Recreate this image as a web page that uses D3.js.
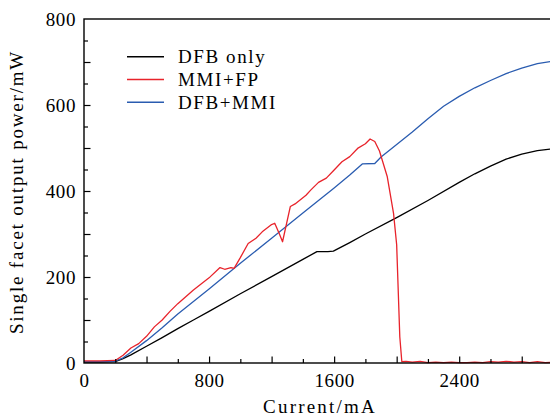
<!DOCTYPE html>
<html><head><meta charset="utf-8">
<script src="https://cdn.jsdelivr.net/npm/d3@7"></script>
<style>
html,body{margin:0;padding:0;background:#fff;}
svg text{font-family:"Liberation Serif","Times New Roman",serif;fill:#000;}
</style></head>
<body><svg id="c" width="550" height="417"></svg>
<script>
// ---- data ----
const seriesNames = ["DFB only", "MMI+FP", "DFB+MMI"];
const seriesColors = ["#000000", "#e8232b", "#2a5cb0"];

const dfbCurrent = [0,100,200,250,300,400,500,600,700,800,1000,1200,1400,1490,1520,1560,1595,1700,1800,2000,2200,2400,2500,2600,2700,2800,2900,3000];
const dfbPower   = [2,2,3,10,19,39,59,80,100,120,161,201,241,259,259,259,260,280,300,338,378,420,440,458,474,486,494,498];

const mmiCurrent = [0,100,200,250,300,350,400,450,500,550,600,700,800,870,900,940,960,1000,1050,1100,1140,1200,1220,1250,1270,1320,1350,1420,1450,1500,1550,1600,1650,1700,1750,1800,1830,1860,1890,1940,1980,2000,2020,2033,2060,2100,2150,2200,2250,2300,2350,2400,2450,2500,2550,2600,2650,2700,2750,2800,2850,2900,2950,3000];
const mmiPower   = [5,5,6,18,35,45,62,84,100,120,138,170,198,222,218,222,220,245,278,290,305,322,325,300,282,364,370,390,402,420,430,449,468,480,499,510,521,515,493,433,348,275,61,3,4,2,4,1,2,1,2,1,1,2,1,3,2,4,2,3,1,3,1,2];

const dmCurrent = [0,100,200,250,300,400,500,600,700,800,1000,1200,1400,1600,1700,1780,1860,1900,2000,2100,2200,2300,2400,2500,2600,2700,2800,2900,3000];
const dmPower   = [3,3,4,12,25,52,82,114,143,172,232,290,349,407,437,463,464,479,508,537,568,597,620,640,657,673,686,696,702];

const xLabelTicks = [0,800,1600,2400];
const yLabelTicks = [0,200,400,600,800];

// ---- layout ----
const svg = d3.select("#c");
const L = 84, T = 19, B = 363, R = 553;
const x = d3.scaleLinear().domain([0,3000]).range([L,R]);
const y = d3.scaleLinear().domain([0,800]).range([B,T]);

const series = [
  {name: seriesNames[0], color: seriesColors[0], xs: dfbCurrent, ys: dfbPower},
  {name: seriesNames[1], color: seriesColors[1], xs: mmiCurrent, ys: mmiPower},
  {name: seriesNames[2], color: seriesColors[2], xs: dmCurrent, ys: dmPower}
];

const line = d3.line().x(d=>x(d[0])).y(d=>y(d[1]));
const g = svg.append("g");
// draw order: black, blue, red on top
[series[0], series[2], series[1]].forEach(s=>{
  g.append("path").datum(s.xs.map((v,i)=>[v,s.ys[i]]))
    .attr("d", line).attr("fill","none").attr("stroke", s.color)
    .attr("stroke-width",1.3).attr("stroke-linejoin","round");
});

// frame
svg.append("rect").attr("x",L).attr("y",T).attr("width",R-L).attr("height",B-T)
  .attr("fill","none").attr("stroke","#000").attr("stroke-width",1.4);

// ticks
function tickAxis(axis, vals, size, tr){
  const a = svg.append("g").attr("transform",tr)
    .call(axis.tickValues(vals).tickSize(size).tickFormat(""));
  a.select(".domain").remove();
  a.selectAll("line").attr("stroke","#000").attr("stroke-width",1.2);
}
tickAxis(d3.axisBottom(x), d3.range(200,3000,400), -4, `translate(0,${B})`);
tickAxis(d3.axisBottom(x), d3.range(400,3000,400), -6.5, `translate(0,${B})`);
tickAxis(d3.axisLeft(y), d3.range(50,800,100), -4, `translate(${L},0)`);
tickAxis(d3.axisLeft(y), d3.range(100,800,100), -6.5, `translate(${L},0)`);

// labels
const xa = svg.append("g").attr("transform",`translate(0,${B})`)
  .call(d3.axisBottom(x).tickValues(xLabelTicks).tickSize(0).tickPadding(10.5).tickFormat(d3.format("d")));
xa.select(".domain").remove();
xa.selectAll("text").attr("font-size",19).attr("font-family",null).attr("letter-spacing","0.6px");
const ya = svg.append("g").attr("transform",`translate(${L},0)`)
  .call(d3.axisLeft(y).tickValues(yLabelTicks).tickSize(0).tickPadding(8).tickFormat(d3.format("d")));
ya.select(".domain").remove();
ya.selectAll("text").attr("font-size",19).attr("font-family",null).attr("letter-spacing","0.6px");

// axis titles
svg.append("text").attr("x",320).attr("y",413).attr("text-anchor","middle")
  .attr("font-size",19).attr("letter-spacing","2.2px").text("Current/mA");
svg.append("text").attr("transform","translate(23,192) rotate(-90)").attr("text-anchor","middle")
  .attr("font-size",19).attr("letter-spacing","1.8px").text("Single facet output power/mW");

// legend
const leg = svg.append("g");
series.forEach((s,i)=>{
  const yy = 56.7 + i*22.8;
  leg.append("line").attr("x1",127).attr("x2",164).attr("y1",yy).attr("y2",yy)
    .attr("stroke",s.color).attr("stroke-width",1.5);
  leg.append("text").attr("x",178).attr("y",yy).attr("dy","0.33em")
    .attr("font-size",19).attr("letter-spacing","1.6px").text(s.name);
});
</script></body></html>
